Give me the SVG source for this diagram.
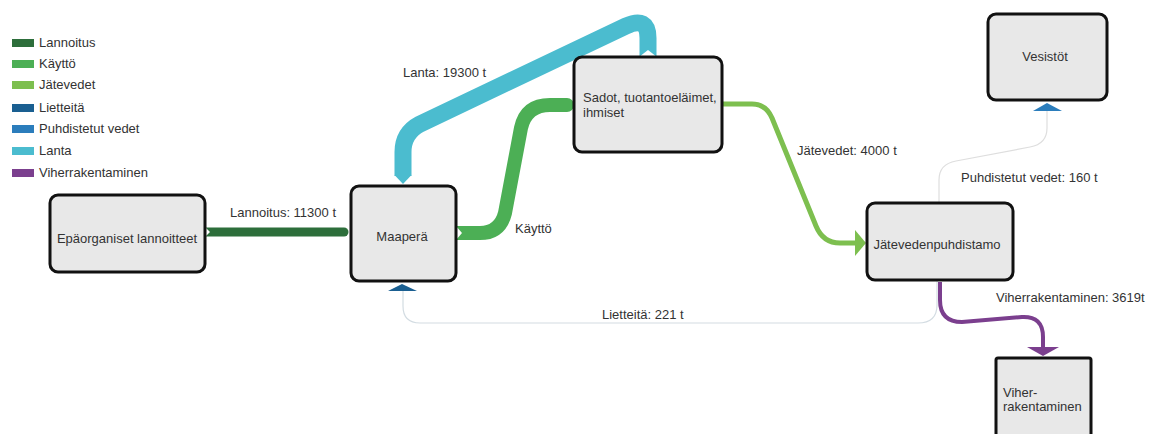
<svg xmlns="http://www.w3.org/2000/svg" width="1165" height="434" viewBox="0 0 1165 434">
<style>
text{font-family:"Liberation Sans",Arial,sans-serif;font-size:13px;fill:#333}
.node rect{fill:#e8e8e8;stroke:#111;stroke-width:3}
.flow{fill:none}
</style>
<rect width="1165" height="434" fill="#fff"/>
<g id="legend">
<rect x="12" y="39" width="22" height="8" fill="#2d6e3b"/><text x="39" y="47">Lannoitus</text>
<rect x="12" y="60" width="22" height="8" fill="#4caf55"/><text x="39" y="68">Käyttö</text>
<rect x="12" y="81" width="22" height="8" fill="#7dbf4f"/><text x="39" y="89">Jätevedet</text>
<rect x="12" y="104" width="22" height="8" fill="#1a5f91"/><text x="39" y="112">Lietteitä</text>
<rect x="12" y="125" width="22" height="8" fill="#2b7dbc"/><text x="39" y="133">Puhdistetut vedet</text>
<rect x="12" y="147" width="22" height="8" fill="#4bbccf"/><text x="39" y="155">Lanta</text>
<rect x="12" y="169" width="22" height="8" fill="#7b3f8e"/><text x="39" y="177">Viherrakentaminen</text>
</g>
<g id="connectors">
<!-- Lannoitus -->
<path class="flow" d="M206,232 L344,232" stroke="#2d6e3b" stroke-width="9" stroke-linecap="round"/>
<polygon points="205,227 210,232 205,237" fill="#fff"/>
<!-- Lanta -->
<path class="flow" d="M648,56 L648,38 Q648,16 626,26 L420,124 Q403,133 403,152 L403,176" stroke="#4bbccf" stroke-width="17"/>
<polygon points="394.5,175 411.5,175 403,184" fill="#4bbccf"/>
<polygon points="639,57 657,57 648,50" fill="#fff"/>
<!-- Käyttö -->
<path class="flow" d="M457,233 L480,233 Q500,233 505,213 L521,128 Q526,105 550,105 L567,105" stroke="#4caf55" stroke-width="14" stroke-linecap="round"/>
<polygon points="456,226 462,233 456,240" fill="#fff"/>
<!-- Jätevedet -->
<path class="flow" d="M722,104 L752,104 Q766,104 772,118 L816,226 Q823,243 840,243 L856,243" stroke="#7dbf4f" stroke-width="5"/>
<polygon points="855,230 866,243 855,256" fill="#7dbf4f"/>
<!-- Puhdistetut vedet -->
<path class="flow" d="M939,202 L939,180 Q939,164 956,161 L1030,147 Q1047,144 1047,128 L1047,111" stroke="#dedede" stroke-width="1.2"/>
<polygon points="1033,111 1047,103 1062,111" fill="#2b7dbc"/>
<!-- Lietteitä -->
<path class="flow" d="M937,281 L937,305 Q937,323 918,323 L420,323 Q403,323 403,306 L403,291" stroke="#d3dce2" stroke-width="1.2"/>
<polygon points="388,291 402,284 417,291" fill="#1a5f91"/>
<!-- Viherrakentaminen -->
<path class="flow" d="M940,282 L940,300 Q940,322 962,322 L1022,317 Q1043,316 1043,337 L1043,348" stroke="#7b3f8e" stroke-width="4"/>
<polygon points="1027,347 1059,347 1043,356" fill="#7b3f8e"/>
<!-- labels -->
<text x="230" y="217">Lannoitus: 11300 t</text>
<text x="403" y="77">Lanta: 19300 t</text>
<text x="515" y="233">Käyttö</text>
<text x="797" y="155">Jätevedet: 4000 t</text>
<text x="961" y="182">Puhdistetut vedet: 160 t</text>
<text x="996" y="302">Viherrakentaminen: 3619t</text>
<text x="602" y="319">Lietteitä: 221 t</text>
</g>
<g id="node-epaorganiset" class="node">
<rect x="50" y="195" width="155" height="77" rx="8"/>
<text x="127" y="243" text-anchor="middle">Epäorganiset lannoitteet</text>
</g>
<g id="node-maapera" class="node">
<rect x="351" y="186" width="105" height="95" rx="8"/>
<text x="402" y="241" text-anchor="middle">Maaperä</text>
</g>
<g id="node-sadot" class="node">
<rect x="574" y="57" width="148" height="95" rx="8"/>
<text x="583" y="102">Sadot, tuotantoeläimet,</text>
<text x="583" y="117">ihmiset</text>
</g>
<g id="node-vesistot" class="node">
<rect x="988" y="14" width="119" height="86" rx="8"/>
<text x="1045" y="61" text-anchor="middle">Vesistöt</text>
</g>
<g id="node-jatevedenpuhdistamo" class="node">
<rect x="867" y="203" width="146" height="77" rx="8"/>
<text x="937" y="249" text-anchor="middle">Jätevedenpuhdistamo</text>
</g>
<g id="node-viherrakentaminen" class="node">
<rect x="996" y="358" width="95" height="90" rx="2"/>
<text x="1003" y="397">Viher-</text>
<text x="1003" y="411">rakentaminen</text>
</g>
</svg>
